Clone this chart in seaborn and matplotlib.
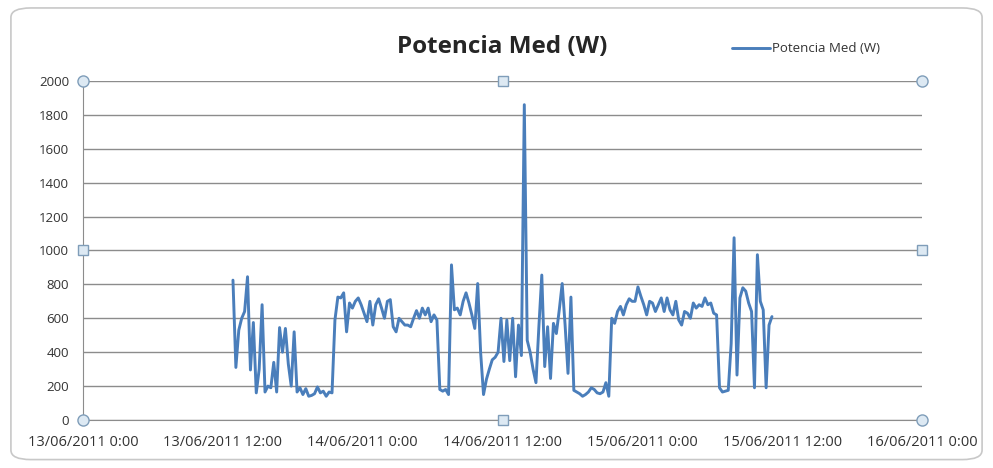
import numpy as np
import pandas as pd
import matplotlib
matplotlib.use("Agg")
import matplotlib.pyplot as plt
import matplotlib.dates as mdates
from matplotlib.ticker import FuncFormatter
from matplotlib.patches import FancyBboxPatch
import seaborn as sns

# lecturas cada 15 minutos
start_time = "2011-06-13 12:52"
step = "15min"
potencia = [
    825, 310, 530, 600, 640, 845, 295, 575, 160, 300,
    680, 165, 200, 190, 340, 165, 545, 400, 540, 330,
    200, 520, 165, 190, 150, 185, 140, 145, 155, 195,
    160, 170, 140, 165, 160, 590, 725, 720, 750, 520,
    690, 660, 700, 720, 680, 630, 580, 700, 560, 680,
    715, 660, 600, 700, 710, 550, 520, 600, 580, 560,
    560, 550, 600, 645, 600, 660, 620, 660, 580, 620,
    590, 180, 170, 180, 150, 915, 650, 660, 620, 700,
    750, 690, 620, 540, 805, 400, 150, 240, 300, 355,
    370, 400, 600, 345, 590, 350, 600, 255, 560, 380,
    1860, 470, 400, 300, 220, 550, 855, 315, 550, 245,
    570, 510, 650, 805, 560, 275, 725, 175, 165, 155,
    140, 150, 165, 190, 180, 160, 155, 165, 220, 140,
    600, 570, 640, 670, 620, 680, 715, 700, 700, 785,
    730, 680, 620, 700, 690, 640, 680, 720, 640, 720,
    650, 620, 700, 590, 560, 640, 630, 600, 690, 660,
    680, 670, 720, 680, 690, 630, 620, 190, 165, 170,
    175, 450, 1075, 265, 720, 780, 760, 690, 640, 190,
    975, 700, 650, 190, 560, 610,
]
x_start = "2011-06-13 00:00"
x_end = "2011-06-16 00:00"
y_ticks = list(range(0, 2001, 200))
titulo = "Potencia Med (W)"

df = pd.DataFrame({
    "fecha": pd.date_range(start_time, periods=len(potencia), freq=step),
    "potencia": potencia,
})

sns.set_style("white")
plt.rcParams["font.family"] = ["Open Sans", "DejaVu Sans"]

fig = plt.figure(figsize=(9.93, 4.68), dpi=100)
ax = fig.add_axes([0.0836, 0.1026, 0.845, 0.7244])

# marco exterior del grafico
frame = FancyBboxPatch((0.011, 0.018), 0.978, 0.965, boxstyle="round,pad=0,rounding_size=0.02",
                       transform=fig.transFigure, facecolor="white", edgecolor="#c8c8c8",
                       linewidth=1.2, zorder=-10)
fig.patches.append(frame)

sns.lineplot(data=df, x="fecha", y="potencia", ax=ax, color="#4a7ebb", linewidth=2.1,
             label=titulo)

ax.set_xlim(pd.Timestamp(x_start), pd.Timestamp(x_end))
ax.set_ylim(0, 2000)
ax.set_yticks(y_ticks)
ax.xaxis.set_major_locator(mdates.HourLocator(byhour=[0, 12]))
ax.xaxis.set_major_formatter(FuncFormatter(
    lambda v, pos: (lambda d: f"{d:%d/%m/%Y} {d.hour}:{d:%M}")(mdates.num2date(v))))
ax.grid(axis="y", color="#8c8c8c", linewidth=1.0)
ax.set_axisbelow(True)
ax.set_xlabel("")
ax.set_ylabel("")
for side in ["top", "right"]:
    ax.spines[side].set_visible(False)
ax.spines["left"].set_color("#8c8c8c")
ax.spines["bottom"].set_color("#8c8c8c")
ax.tick_params(axis="x", direction="out", length=4, color="#8c8c8c", labelsize=10.5,
               labelcolor="#333333", pad=7)
ax.tick_params(axis="y", length=0, labelsize=9.5, labelcolor="#333333", pad=10)

ax.set_title(titulo, fontsize=17.5, fontweight="bold", pad=20, x=0.5)

leg = ax.legend(loc="upper left", bbox_to_anchor=(0.725, 0.935), bbox_transform=fig.transFigure,
                frameon=False, fontsize=9.5, handlelength=2.9, handletextpad=0.15)
for t in leg.get_texts():
    t.set_color("#333333")

# tiradores de seleccion del area de trazado
for hx, hy in [(0, 0), (1, 0), (0, 1), (1, 1)]:
    ax.plot(hx, hy, "o", transform=ax.transAxes, clip_on=False, markersize=8,
            markerfacecolor="#dde9f3", markeredgecolor="#7f9db9", zorder=5)
for hx, hy in [(0.5, 0), (0.5, 1), (0, 0.5), (1, 0.5)]:
    ax.plot(hx, hy, "s", transform=ax.transAxes, clip_on=False, markersize=7,
            markerfacecolor="#dde9f3", markeredgecolor="#7f9db9", zorder=5)

fig.savefig("out.png", dpi=100)
